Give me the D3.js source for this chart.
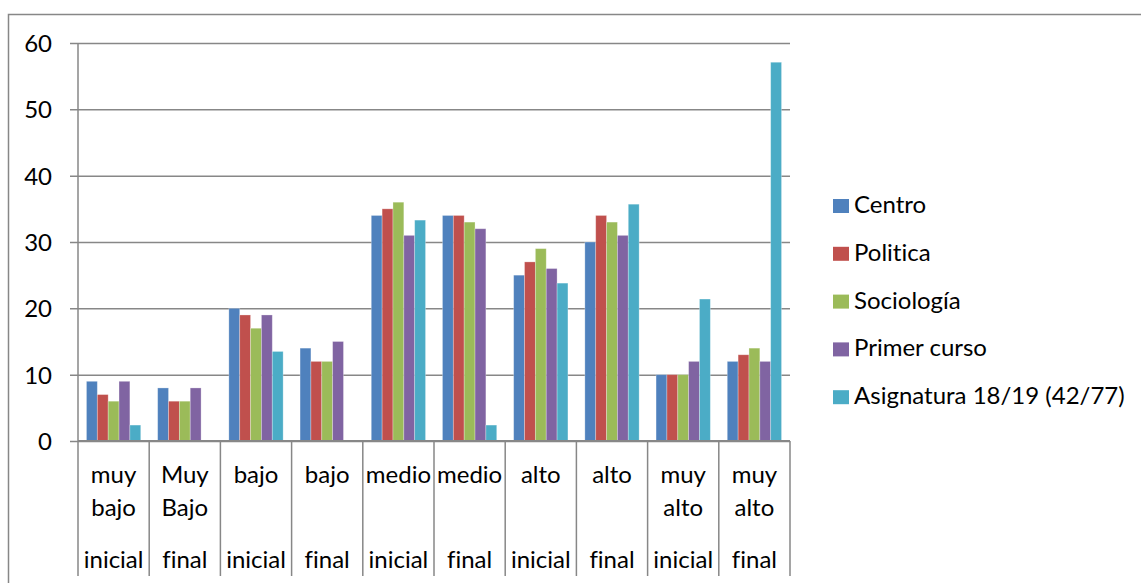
<!DOCTYPE html>
<html>
<head>
<meta charset="utf-8">
<script src="https://cdn.jsdelivr.net/npm/d3@7/dist/d3.min.js"></script>
<style>
  html, body { margin: 0; padding: 0; background: #fff; }
  svg { display: block; font-family: Lato, "Liberation Sans", sans-serif; font-variant-ligatures: none; }
</style>
</head>
<body>
<svg id="chart" width="1141" height="583"></svg>
<script>
// Category labels: level line(s) and the stage line
const levelLabels = [["muy", "bajo"], ["Muy", "Bajo"], ["bajo"], ["bajo"], ["medio"], ["medio"], ["alto"], ["alto"], ["muy", "alto"], ["muy", "alto"]];
const stageLabels = ["inicial", "final", "inicial", "final", "inicial", "final", "inicial", "final", "inicial", "final"];

const seriesNames = ["Centro", "Politica", "Sociología", "Primer curso", "Asignatura 18/19 (42/77)"];
const seriesColors = ["#4F81BD", "#C0504D", "#9BBB59", "#8064A2", "#4BACC6"];

const centro      = [9, 8, 20, 14, 34, 34, 25, 30, 10, 12];
const politica    = [7, 6, 19, 12, 35, 34, 27, 34, 10, 13];
const sociologia  = [6, 6, 17, 12, 36, 33, 29, 33, 10, 14];
const primerCurso = [9, 8, 19, 15, 31, 32, 26, 31, 12, 12];
const asignatura  = [2.4, 0, 13.5, 0, 33.3, 2.4, 23.8, 35.7, 21.4, 57.1];

const yTicks = [0, 10, 20, 30, 40, 50, 60];

const seriesValues = [centro, politica, sociologia, primerCurso, asignatura];
const categories = stageLabels.map((s, i) => i);

const svg = d3.select("#chart");
const gray = "#878787";
const fontSize = "24px";

// Outer chart frame
svg.append("rect")
  .attr("x", 8.5).attr("y", 14.5)
  .attr("width", 1145).attr("height", 600)
  .attr("fill", "none").attr("stroke", gray).attr("stroke-width", 1.5);

const plotLeft = 78, plotRight = 790, plotTop = 43, plotBottom = 441;

const x = d3.scaleBand().domain(categories).range([plotLeft, plotRight]).paddingInner(0).paddingOuter(0);
const y = d3.scaleLinear().domain([0, 60]).range([plotBottom, plotTop]);
const xInner = d3.scaleBand().domain(d3.range(seriesNames.length))
  .range([0, x.bandwidth()]).paddingOuter(0.78).paddingInner(0);

// Horizontal gridlines with short ticks left of the axis
const yAxis = d3.axisLeft(y).tickValues(yTicks).tickSize(-(plotRight - plotLeft)).tickPadding(18)
  .tickFormat(d3.format("d"));
const gy = svg.append("g").attr("transform", `translate(${plotLeft},0)`).call(yAxis);
gy.select(".domain").remove();
gy.selectAll(".tick line").attr("stroke", gray).attr("stroke-width", 1.5)
  .attr("x1", -8);
gy.selectAll(".tick text").attr("fill", "#000").style("font-size", fontSize)
  .style("font-family", "Lato, sans-serif")
  .attr("x", -26).attr("dy", "0.35em");

// Vertical value axis line
svg.append("line")
  .attr("x1", plotLeft).attr("x2", plotLeft).attr("y1", plotTop).attr("y2", plotBottom)
  .attr("stroke", gray).attr("stroke-width", 1.5);

// Bars
const groups = svg.append("g").selectAll("g")
  .data(categories).join("g")
  .attr("transform", d => `translate(${x(d)},0)`);

groups.selectAll("rect")
  .data(c => seriesValues.map((vals, s) => ({ s, v: vals[c] })).filter(d => d.v > 0))
  .join("rect")
  .attr("x", d => xInner(d.s))
  .attr("width", xInner.bandwidth())
  .attr("y", d => y(d.v))
  .attr("height", d => y(0) - y(d.v))
  .attr("fill", d => seriesColors[d.s])
  .attr("stroke", "rgba(255,255,255,0.35)").attr("stroke-width", 0.8);

// Category axis line and separators extending down through the label area
svg.append("line")
  .attr("x1", plotLeft).attr("x2", plotRight).attr("y1", plotBottom).attr("y2", plotBottom)
  .attr("stroke", gray).attr("stroke-width", 2);

const bounds = categories.map(c => x(c)).concat([plotRight]);
svg.append("g").selectAll("line").data(bounds).join("line")
  .attr("x1", d => d).attr("x2", d => d)
  .attr("y1", plotBottom).attr("y2", 576)
  .attr("stroke", gray).attr("stroke-width", 1.5);

// Category labels
const labels = svg.append("g").selectAll("g").data(categories).join("g")
  .attr("transform", d => `translate(${x(d) + x.bandwidth() / 2},0)`)
  .style("font-size", fontSize).attr("text-anchor", "middle").attr("fill", "#000");

labels.each(function(c) {
  const g = d3.select(this);
  levelLabels[c].forEach((t, i) => {
    g.append("text").attr("y", 483 + i * 33).text(t);
  });
  g.append("text").attr("y", 568).text(stageLabels[c]);
});

// Legend
const legend = svg.append("g").selectAll("g").data(seriesNames).join("g")
  .attr("transform", (d, i) => `translate(833,${199 + i * 47.8})`);
legend.append("rect").attr("width", 16).attr("height", 14)
  .attr("fill", (d, i) => seriesColors[i]);
legend.append("text").attr("x", 21).attr("y", 14)
  .style("font-size", fontSize).attr("fill", "#000").text(d => d);
</script>
</body>
</html>
